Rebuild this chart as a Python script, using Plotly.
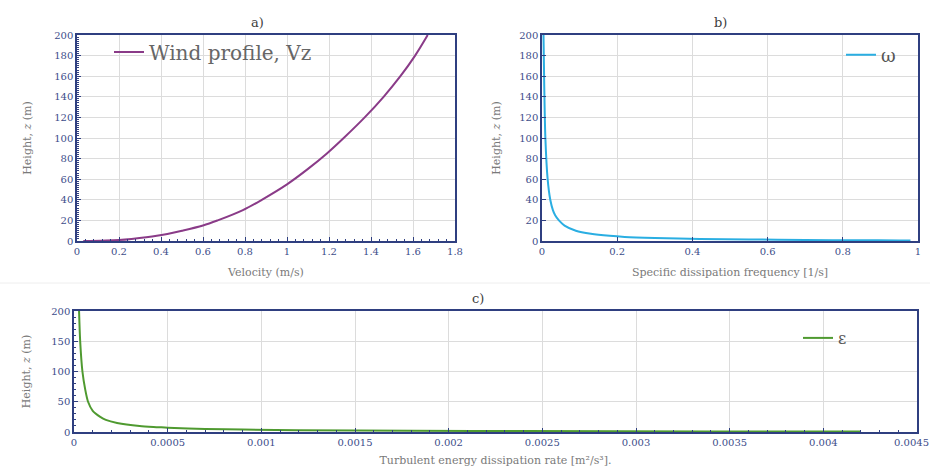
import plotly.graph_objects as go

# ---- data ----
wind_z = [0, 1, 2, 5, 10, 15, 20, 30, 40, 55, 70, 85, 100, 120, 140, 160, 180, 200]
wind_v = [0.03, 0.2, 0.26, 0.38, 0.5, 0.6, 0.67, 0.79, 0.88, 1.0, 1.1, 1.19, 1.27, 1.37, 1.46, 1.54, 1.61, 1.67]

omega_z = [200, 150, 100, 60, 40, 30, 25, 20, 15, 10, 7, 5, 4, 3, 2, 1.5, 1, 0.7, 0.5, 0.45]
omega_v = [0.004, 0.006, 0.009, 0.015, 0.022, 0.029, 0.035, 0.045, 0.06, 0.09, 0.13, 0.18, 0.22, 0.3, 0.42, 0.55, 0.7, 0.85, 0.95, 0.98]

eps_z = [200, 150, 100, 70, 50, 35, 25, 20, 15, 10, 8, 7, 5, 4, 3, 2, 1.5, 1, 0.8]
eps_v = [2.7e-5, 3.3e-5, 4.5e-5, 6.0e-5, 7.5e-5, 1.0e-4, 1.4e-4, 1.7e-4, 2.3e-4, 3.5e-4, 4.5e-4, 5.0e-4, 7.0e-4, 9.0e-4, 1.2e-3, 1.8e-3, 2.4e-3, 3.4e-3, 4.2e-3]

eps_ticks = [0, 0.0005, 0.001, 0.0015, 0.002, 0.0025, 0.003, 0.0035, 0.004, 0.0045]
eps_ticklabels = ["0", "0.0005", "0.001", "0.0015", "0.002", "0.0025", "0.003", "0.0035", "0.004", "0.0045"]

FONT = "DejaVu Serif"
TICKC = "#3d4d8a"
AXC = "#2f3f80"
GRID = "#dcdcdc"
TITLEC = "#7a7a7a"

W, H = 932, 468
def px(x): return x / W
def py(y): return 1 - y / H

fig = go.Figure()
fig.add_trace(go.Scatter(x=wind_v, y=wind_z, mode="lines", name="Wind profile, Vz",
                         line=dict(color="#8a3b88", width=2, shape="spline", smoothing=1),
                         xaxis="x", yaxis="y", legend="legend"))
fig.add_trace(go.Scatter(x=omega_v, y=omega_z, mode="lines", name="ω",
                         line=dict(color="#2aaee2", width=2, shape="spline", smoothing=0.8),
                         xaxis="x2", yaxis="y2", legend="legend2"))
fig.add_trace(go.Scatter(x=eps_v, y=eps_z, mode="lines", name="ε",
                         line=dict(color="#4f9a30", width=2, shape="spline", smoothing=0.8),
                         xaxis="x3", yaxis="y3", legend="legend3"))

def ax(domain, anchor, rng, dtick, title, standoff, minor=None):
    d = dict(domain=domain, anchor=anchor, range=rng, dtick=dtick, tick0=0,
             showgrid=True, gridcolor=GRID, gridwidth=1,
             showline=True, linecolor=AXC, linewidth=1.5, mirror=True,
             ticks="inside", ticklen=4, tickcolor=AXC,
             tickfont=dict(family=FONT, size=10, color=TICKC),
             title=dict(text=title, font=dict(family=FONT, size=11, color=TITLEC), standoff=standoff),
             zeroline=False, automargin=False, ticklabeloverflow="allow")
    if minor:
        d["minor"] = dict(ticks="inside", ticklen=2, dtick=minor, tickcolor=AXC, showgrid=False)
    return d

dom_ax = [px(77), px(455)]
dom_bx = [px(542), px(918)]
dom_cx = [px(74), px(917)]
dom_aby = [py(241), py(35)]
dom_cy = [py(432), py(311)]

# last label of the bottom axis is drawn as an annotation so it stays inside the page
xaxis3 = ax(dom_cx, "y3", [0, 0.0045], 0.0005, "Turbulent energy dissipation rate [m²/s³].", 10, minor=0.0001)
xaxis3.update(tickmode="array", tickvals=eps_ticks, ticktext=eps_ticklabels[:-1] + [""])
xaxis3.pop("dtick")

ytitle = "Height, <i>z</i> (m)"
fig.update_layout(
    width=W, height=H, margin=dict(l=0, r=0, t=0, b=0, autoexpand=False),
    paper_bgcolor="white", plot_bgcolor="white",
    xaxis=ax(dom_ax, "y", [0, 1.8], 0.2, "Velocity (m/s)", 13, minor=0.04),
    yaxis=ax(dom_aby, "x", [0, 200], 20, ytitle, 20, minor=2),
    xaxis2=ax(dom_bx, "y2", [0, 1], 0.2, "Specific dissipation frequency [1/s]", 13),
    yaxis2=ax(dom_aby, "x2", [0, 200], 20, ytitle, 16),
    xaxis3=xaxis3,
    yaxis3=ax(dom_cy, "x3", [0, 200], 50, ytitle, 18, minor=10),
    legend=dict(x=px(109), y=py(52), xanchor="left", yanchor="middle", bgcolor="rgba(0,0,0,0)",
                font=dict(family=FONT, size=20, color="#666666"), itemwidth=30),
    legend2=dict(x=px(841), y=py(55), xanchor="left", yanchor="middle", bgcolor="rgba(0,0,0,0)",
                 font=dict(family=FONT, size=18, color="#555555"), itemwidth=30),
    legend3=dict(x=px(798), y=py(338), xanchor="left", yanchor="middle", bgcolor="rgba(0,0,0,0)",
                 font=dict(family=FONT, size=16, color="#555555"), itemwidth=30),
    showlegend=True,
)

fig.add_annotation(text=eps_ticklabels[-1], x=eps_ticks[-1], xref="x3", y=py(442), yref="paper",
                   xanchor="right", yanchor="middle", xshift=14, showarrow=False,
                   font=dict(family=FONT, size=10, color=TICKC))

for txt, x, y in [("a)", 257, 22), ("b)", 720, 22), ("c)", 478, 298)]:
    fig.add_annotation(text=txt, x=px(x), y=py(y), xref="paper", yref="paper",
                       xanchor="center", yanchor="middle",
                       showarrow=False, font=dict(family=FONT, size=13, color="#404040"))

fig.add_shape(type="line", xref="paper", yref="paper", x0=0, x1=px(930), y0=py(283), y1=py(283),
              line=dict(color="#eeeeee", width=1))

fig.write_html("out.html")
